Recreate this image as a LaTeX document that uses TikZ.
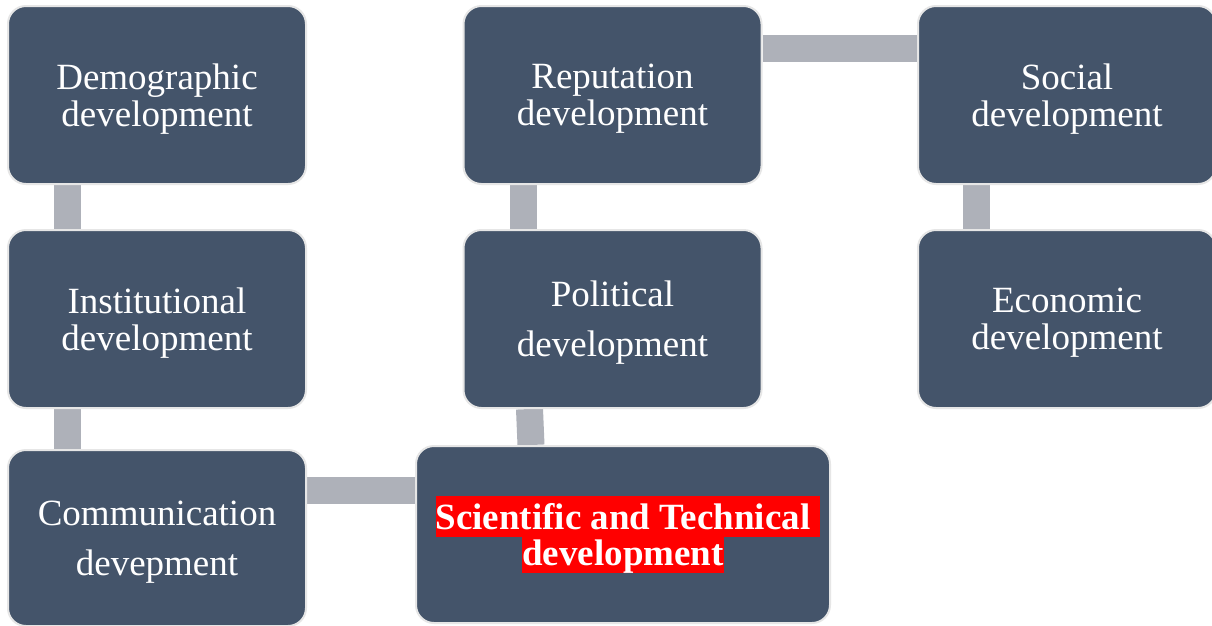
\documentclass[tikz,border=0pt]{standalone}
\usepackage{fontspec}
\setmainfont{Liberation Serif}
\usetikzlibrary{backgrounds}
\definecolor{boxblue}{HTML}{44546A}
\definecolor{boxedge}{HTML}{E6E6E6}
\definecolor{linkgray}{HTML}{AEB1B9}
\newcommand{\boxw}{298pt}
\newcommand{\boxh}{178pt}
\newcommand{\linkw}{27pt}
\newcommand{\hlt}[2]{{\setlength{\fboxsep}{0pt}\colorbox{red}{\rule[-8pt]{0pt}{#1}#2}}}
\tikzset{
  devbox/.style={rectangle, rounded corners=18pt, fill=boxblue, draw=boxedge,
    line width=2pt, text=white, minimum width=\boxw, minimum height=\boxh,
    inner sep=0pt, align=center},
  txt/.style={font=\fontsize{37}{37}\selectfont, text depth=0pt},
  wide/.style={font=\fontsize{37}{50}\selectfont, text depth=0pt},
  link/.style={linkgray, line width=\linkw},
}

\begin{document}
\begin{tikzpicture}[x=1pt, y=-1pt]
\useasboundingbox (0,0) rectangle (1212,625);
\node[devbox, txt] (dem) at (157, 95) {Demographic\\development};
\node[devbox, txt] (inst) at (157, 319) {Institutional\\development};
\node[devbox, wide, minimum height=176pt] (comm) at (157, 538) {Communication\\devepment};
\node[devbox, txt] (rep) at (612.5, 95) {Reputation\\development};
\node[devbox, wide] (pol) at (612.5, 319) {Political\\development};
\node[devbox, minimum width=414pt, minimum height=177pt,
  font=\bfseries\fontsize{37}{36}\selectfont] (sci) at (623, 534.5)
  {\hlt{41pt}{Scientific and Technical}\rlap{\hlt{41pt}{\ }}\\\hlt{36pt}{development}};
\node[devbox, txt] (soc) at (1067, 95) {Social\\development};
\node[devbox, txt] (eco) at (1067, 319) {Economic\\development};
%links
\begin{scope}[on background layer]
\fill[white] (0,0) rectangle (1212,625);
\draw[link] ([xshift=60.5pt]dem.south west) -- ([xshift=60.5pt]inst.north west);
\draw[link] ([xshift=60.5pt]inst.south west) -- ([xshift=60.5pt]comm.north west);
\draw[link] ([yshift=-41pt]comm.north east) -- ([yshift=-45pt]sci.north west);
\draw[link] ([xshift=67pt]pol.south west) -- ([xshift=116pt]sci.north west);
\draw[link] ([xshift=60.5pt]rep.south west) -- ([xshift=60.5pt]pol.north west);
\draw[link] ([yshift=-43.5pt]rep.north east) -- ([yshift=-43.5pt]soc.north west);
\draw[link] ([xshift=59.5pt]soc.south west) -- ([xshift=59.5pt]eco.north west);
\end{scope}
\end{tikzpicture}
\end{document}
